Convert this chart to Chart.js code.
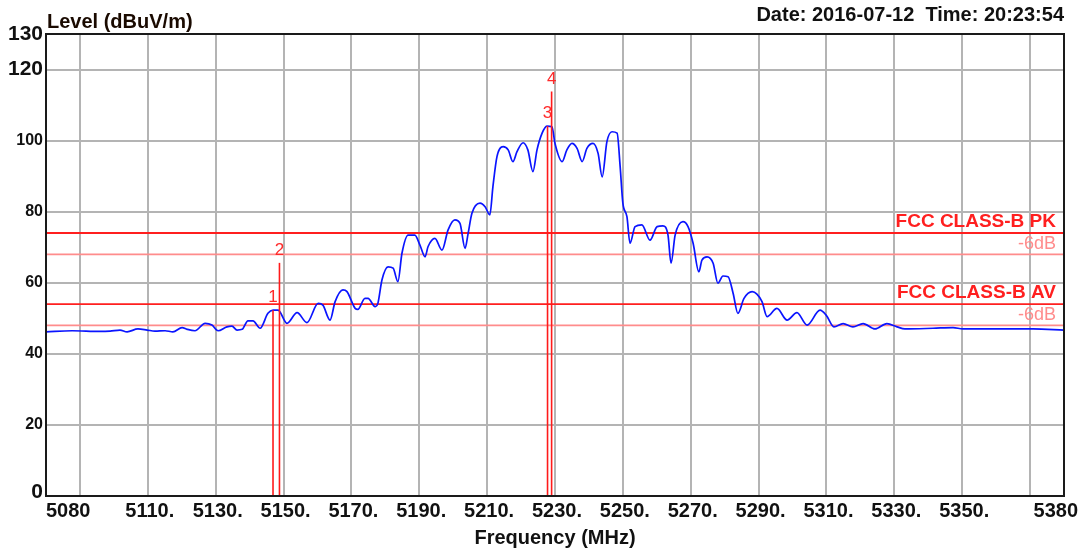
<!DOCTYPE html>
<html>
<head>
<meta charset="utf-8">
<script src="https://cdn.jsdelivr.net/npm/chart.js@4.4.1/dist/chart.umd.min.js"></script>
<style>
  html, body { margin: 0; padding: 0; background: #ffffff; }
  #wrap { width: 1091px; height: 551px; position: relative; }
</style>
</head>
<body>
<div id="wrap"><canvas id="c" width="1091" height="551"></canvas></div>
<script>
// ---------- data ----------
const freqMHz = [
  5080.0, 5087.7, 5095.9, 5098.9, 5101.8, 5103.9, 5107.1, 5109.8, 5112.1, 5115.1,
  5117.4, 5120.1, 5121.6, 5123.9, 5126.9, 5128.9, 5130.7, 5133.3, 5134.8, 5136.3,
  5137.8, 5139.5, 5141.0, 5143.1, 5145.4, 5146.9, 5148.4, 5151.0, 5154.0, 5156.9,
  5160.2, 5161.6, 5163.7, 5165.2, 5167.5, 5168.7, 5171.1, 5171.9, 5174.0, 5174.9,
  5177.0, 5177.8, 5179.0, 5180.8, 5182.3, 5183.7, 5184.9, 5186.7, 5188.7, 5190.2,
  5191.7, 5192.6, 5194.6, 5196.7, 5198.5, 5200.5, 5202.0, 5203.5, 5204.4, 5205.5,
  5207.9, 5209.4, 5210.8, 5211.7, 5212.9, 5214.7, 5216.2, 5217.6, 5218.8, 5220.6,
  5222.0, 5223.5, 5224.7, 5226.2, 5227.6, 5229.1, 5230.0, 5232.1, 5233.5, 5235.0,
  5236.5, 5238.0, 5239.4, 5241.2, 5242.7, 5243.9, 5245.3, 5246.8, 5248.3, 5249.2,
  5250.0, 5251.2, 5252.1, 5253.6, 5255.6, 5258.0, 5260.1, 5261.8, 5263.3, 5264.2,
  5265.4, 5267.7, 5269.2, 5270.7, 5272.4, 5273.3, 5274.8, 5276.6, 5278.0, 5279.5,
  5281.0, 5282.5, 5283.9, 5285.7, 5288.1, 5289.5, 5291.0, 5292.5, 5295.4, 5298.4,
  5301.3, 5304.3, 5308.1, 5309.9, 5312.2, 5314.9, 5317.8, 5320.8, 5324.3, 5327.8,
  5330.8, 5333.1, 5341.4, 5347.3, 5350.2, 5361.1, 5370.9, 5380.0
];
const levelDb = [
  46.2, 46.5, 46.3, 46.4, 46.7, 46.2, 47.0, 46.7, 46.4, 46.5,
  46.2, 47.4, 46.9, 46.5, 48.6, 48.1, 46.5, 47.6, 47.8, 46.7,
  46.9, 49.3, 49.3, 47.2, 51.4, 52.3, 52.3, 48.6, 51.6, 48.8,
  54.2, 53.7, 49.5, 54.7, 58.0, 57.5, 52.8, 52.5, 55.6, 55.6,
  53.3, 54.2, 60.8, 64.5, 64.1, 60.3, 68.3, 73.4, 73.4, 70.6,
  67.3, 70.2, 72.5, 69.2, 74.9, 77.7, 76.7, 69.7, 73.9, 79.5,
  82.4, 81.4, 79.1, 87.0, 95.5, 98.3, 97.4, 94.1, 96.9, 99.4,
  97.4, 91.3, 97.4, 102.1, 104.1, 103.9, 99.2, 94.1, 97.4, 99.2,
  97.8, 94.1, 97.8, 99.2, 96.4, 89.8, 99.7, 102.5, 102.1, 92.7,
  82.4, 78.6, 71.1, 75.8, 76.3, 72.0, 75.8, 76.0, 73.4, 65.5,
  73.4, 77.2, 75.8, 71.1, 63.1, 66.4, 67.3, 65.5, 59.9, 61.9,
  61.7, 57.0, 51.4, 55.6, 57.5, 56.8, 54.7, 50.5, 52.8, 49.5,
  51.6, 48.1, 52.3, 50.9, 47.6, 48.5, 47.6, 48.5, 47.0, 48.5,
  47.6, 47.0, 47.2, 47.4, 47.0, 47.0, 47.0, 46.7
];

const limitNames  = ['FCC CLASS-B PK', '-6dB', 'FCC CLASS-B AV', '-6dB'];
const limitValues = [74, 68, 54, 48];

const markerLabels = ['1', '2', '3', '4'];
const markerFreq   = [5146.9, 5148.8, 5227.8, 5229.0];
const markerLevel  = [52.3, 65.6, 104.1, 113.8];

const xGridValues = [5090, 5110, 5130, 5150, 5170, 5190, 5210, 5230, 5250, 5270, 5290, 5310, 5330, 5350, 5370];
const xTickLabels = ['', '5110.', '5130.', '5150.', '5170.', '5190.', '5210.', '5230.', '5250.', '5270.', '5290.', '5310.', '5330.', '5350.', ''];
const xEndLabels  = ['5080', '5380'];
const yTickValues = [0, 20, 40, 60, 80, 100, 120, 130];

const yTitle = 'Level (dBuV/m)';
const xTitle = 'Frequency (MHz)';
const stampText = 'Date: 2016-07-12  Time: 20:23:54';

// ---------- datasets ----------
const datasets = [];
markerFreq.forEach((f, i) => {
  datasets.push({
    label: 'Marker ' + markerLabels[i],
    data: [{x: f, y: 0}, {x: f, y: markerLevel[i]}],
    borderColor: '#ff1a1a', borderWidth: 1.6, pointRadius: 0, order: 0
  });
});
datasets.push({
  label: 'Level',
  data: freqMHz.map((f, i) => ({x: f, y: levelDb[i]})),
  borderColor: '#0a14ff', borderWidth: 1.7, pointRadius: 0,
  cubicInterpolationMode: 'monotone', order: 1
});
limitValues.forEach((v, i) => {
  const light = limitNames[i] === '-6dB';
  datasets.push({
    label: limitNames[i],
    data: [{x: 5080, y: v}, {x: 5380, y: v}],
    borderColor: light ? '#ff8c8c' : '#ff1f1f', borderWidth: 1.8,
    pointRadius: 0, order: 2
  });
});

const FONT = '"Liberation Sans", Arial, sans-serif';

const textPlugin = {
  id: 'texts',
  afterDraw(chart) {
    const ctx = chart.ctx;
    const a = chart.chartArea;
    const xs = chart.scales.x, ys = chart.scales.y;
    ctx.save();
    // frame
    ctx.strokeStyle = '#1a1a1a';
    ctx.lineWidth = 2;
    ctx.strokeRect(a.left, a.top, a.right - a.left, a.bottom - a.top);

    // y tick labels
    ctx.fillStyle = '#111111';
    ctx.textAlign = 'right';
    ctx.textBaseline = 'middle';
    yTickValues.forEach(v => {
      const big = (v === 0 || v >= 120);
      ctx.font = (big ? 'bold 21px ' : 'bold 16px ') + FONT;
      ctx.fillText(String(v), a.left - 3, ys.getPixelForValue(v) + (v === 0 ? -4 : 0));
    });

    // x tick labels
    ctx.font = 'bold 20px ' + FONT;
    ctx.textBaseline = 'top';
    ctx.textAlign = 'center';
    xGridValues.forEach((v, i) => {
      if (xTickLabels[i]) ctx.fillText(xTickLabels[i], xs.getPixelForValue(v) + 2, a.bottom + 5);
    });
    ctx.textAlign = 'left';
    ctx.fillText(xEndLabels[0], xs.getPixelForValue(5080), a.bottom + 5);
    ctx.textAlign = 'right';
    ctx.fillText(xEndLabels[1], xs.getPixelForValue(5380) + 14, a.bottom + 5);

    // axis titles
    ctx.textAlign = 'center';
    ctx.font = 'bold 20px ' + FONT;
    ctx.fillText(xTitle, (a.left + a.right) / 2, a.bottom + 32);
    ctx.textAlign = 'left';
    ctx.textBaseline = 'alphabetic';
    ctx.fillStyle = '#1a0a00';
    ctx.fillText(yTitle, a.left + 1, 28);
    ctx.textAlign = 'right';
    ctx.fillStyle = '#111111';
    ctx.fillText(stampText, a.right, 21);

    // limit labels
    ctx.textAlign = 'right';
    ctx.textBaseline = 'alphabetic';
    limitValues.forEach((v, i) => {
      const y = ys.getPixelForValue(v);
      if (limitNames[i] === '-6dB') {
        ctx.font = '18px ' + FONT;
        ctx.fillStyle = '#ff8c8c';
        ctx.fillText(limitNames[i], a.right - 8, y - 5.5);
      } else {
        ctx.font = 'bold 19px ' + FONT;
        ctx.fillStyle = '#ff1f1f';
        ctx.fillText(limitNames[i], a.right - 8, y - 6);
      }
    });

    // marker labels
    ctx.font = '17px ' + FONT;
    ctx.fillStyle = '#ff2a2a';
    ctx.textAlign = 'center';
    ctx.textBaseline = 'bottom';
    markerFreq.forEach((f, i) => {
      ctx.fillText(markerLabels[i], xs.getPixelForValue(f), ys.getPixelForValue(markerLevel[i]) - 4);
    });
    ctx.restore();
  }
};

new Chart(document.getElementById('c'), {
  type: 'line',
  data: { datasets },
  options: {
    responsive: false,
    animation: false,
    events: [],
    layout: { padding: { left: 46, top: 34, right: 27, bottom: 55 } },
    plugins: { legend: { display: false }, tooltip: { enabled: false } },
    scales: {
      x: {
        type: 'linear', min: 5080, max: 5380,
        afterBuildTicks: s => { s.ticks = xGridValues.map(v => ({value: v})); },
        ticks: { display: false },
        grid: { color: '#b4b4b4', lineWidth: 2, drawTicks: false },
        border: { display: false }
      },
      y: {
        type: 'linear', min: 0, max: 130,
        afterBuildTicks: s => { s.ticks = yTickValues.filter(v => v > 0 && v < 130).map(v => ({value: v})); },
        ticks: { display: false },
        grid: { color: '#b4b4b4', lineWidth: 2, drawTicks: false },
        border: { display: false }
      }
    }
  },
  plugins: [textPlugin]
});
</script>
</body>
</html>
